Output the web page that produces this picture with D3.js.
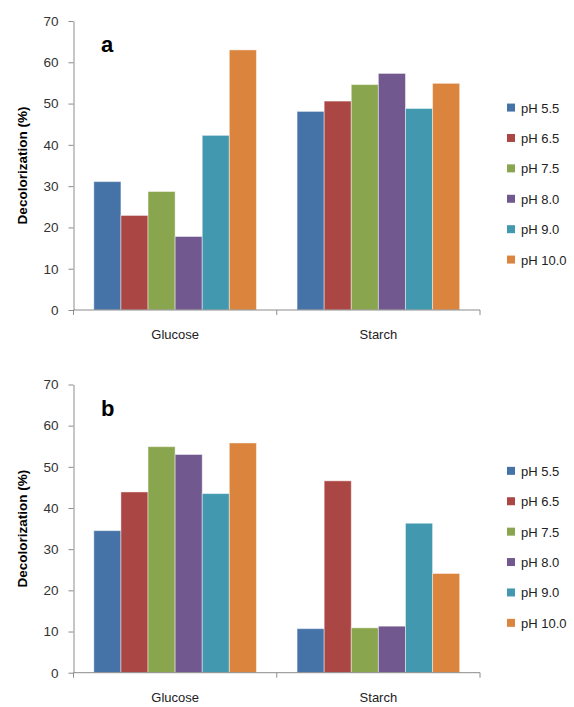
<!DOCTYPE html>
<html>
<head>
<meta charset="utf-8">
<script src="https://cdn.jsdelivr.net/npm/d3@7"></script>
<style>
  body { margin: 0; background: #fff; }
  svg { display: block; font-family: "Liberation Sans", Arial, sans-serif; }
</style>
</head>
<body>
<div id="chart"></div>
<script>
// categories and series
var substrates = ["Glucose", "Starch"];
var phLabels = ["pH 5.5", "pH 6.5", "pH 7.5", "pH 8.0", "pH 9.0", "pH 10.0"];
var colors = ["#4572A7", "#AA4643", "#89A54E", "#71588F", "#4198AF", "#DB843D"];
var yTicks = [0, 10, 20, 30, 40, 50, 60, 70];

// panel a values (per pH)
var aGlucose = [31.1, 22.9, 28.7, 17.8, 42.3, 63.0];
var aStarch  = [48.1, 50.6, 54.6, 57.3, 48.8, 54.9];

// panel b values (per pH)
var bGlucose = [34.5, 43.9, 54.9, 53.0, 43.5, 55.8];
var bStarch  = [10.7, 46.6, 10.9, 11.3, 36.3, 24.1];

var svg = d3.select("#chart")
  .append("svg")
    .attr("width", 574)
    .attr("height", 707);

function drawPanel(label, glucose, starch, top, bottom)
{
  var left = 73.5, right = 480;
  var g = svg.append("g");

  var x0 = d3.scaleBand()
    .domain(substrates)
    .range([left, right]);

  var x1 = d3.scaleBand()
    .domain(phLabels)
    .range([0, x0.bandwidth()])
    .paddingOuter(0.75);

  var y = d3.scaleLinear()
    .domain([0, 70])
    .range([bottom, top]);

  var rows = [glucose, starch];

  // bars
  g.append("g")
    .selectAll("g")
    .data(substrates)
    .enter()
    .append("g")
      .attr("transform", function (d) { return "translate(" + x0(d) + ",0)"; })
    .selectAll("rect")
    .data(function (d, i) {
      return phLabels.map(function (p, j) { return {ph: p, v: rows[i][j], c: colors[j]}; });
    })
    .enter()
    .append("rect")
      .attr("x", function (d) { return x1(d.ph); })
      .attr("width", x1.bandwidth())
      .attr("y", function (d) { return y(d.v); })
      .attr("height", function (d) { return y(0) - y(d.v); })
      .style("fill", function (d) { return d.c; })
      .style("stroke", "rgba(255,255,255,0.45)")
      .style("stroke-width", 1);

  // y axis
  var yAxis = g.append("g")
    .attr("transform", "translate(" + left + ",0)")
    .call(d3.axisLeft(y).tickValues(yTicks).tickSize(5).tickSizeOuter(0).tickPadding(10));
  yAxis.select(".domain").attr("stroke", "#8c8c8c");
  yAxis.selectAll(".tick line").attr("stroke", "#8c8c8c");
  yAxis.selectAll(".tick text")
    .style("font-size", "13.5px")
    .style("fill", "#333");

  // x axis
  var xAxis = g.append("g")
    .attr("transform", "translate(0," + y(0) + ")")
    .call(d3.axisBottom(x0).tickSize(0).tickPadding(20));
  xAxis.select(".domain").remove();
  xAxis.selectAll(".tick text")
    .style("font-size", "13px")
    .style("fill", "#222");

  g.append("line")
    .attr("x1", left).attr("x2", right)
    .attr("y1", y(0)).attr("y2", y(0))
    .attr("stroke", "#8c8c8c");

  var bounds = substrates.map(function (d) { return x0(d); }).concat([right]);
  g.selectAll(".btick")
    .data(bounds)
    .enter()
    .append("line")
      .attr("x1", function (d) { return d; })
      .attr("x2", function (d) { return d; })
      .attr("y1", y(0))
      .attr("y2", y(0) + 5)
      .attr("stroke", "#8c8c8c");

  // y title
  g.append("text")
    .attr("transform", "translate(27," + ((top + bottom) / 2) + ") rotate(-90)")
    .attr("text-anchor", "middle")
    .style("font-size", "13.5px")
    .style("font-weight", "bold")
    .style("fill", "#000")
    .text("Decolorization (%)");

  // panel letter
  g.append("text")
    .attr("x", 101)
    .attr("y", top + 31)
    .style("font-size", "22px")
    .style("font-weight", "bold")
    .style("fill", "#000")
    .text(label);

  // legend
  var leg = g.append("g")
    .selectAll("g")
    .data(phLabels)
    .enter()
    .append("g")
      .attr("transform", function (d, i) { return "translate(507," + (y(50) + 4 + i * 30.4) + ")"; });

  leg.append("rect")
    .attr("x", 0).attr("y", -4)
    .attr("width", 8).attr("height", 8)
    .style("fill", function (d, i) { return colors[i]; });

  leg.append("text")
    .attr("x", 14)
    .attr("y", 5)
    .style("font-size", "13px")
    .style("fill", "#222")
    .text(function (d) { return d; });
}

drawPanel("a", aGlucose, aStarch, 21, 310);
drawPanel("b", bGlucose, bStarch, 384.5, 672.7);
</script>
</body>
</html>
